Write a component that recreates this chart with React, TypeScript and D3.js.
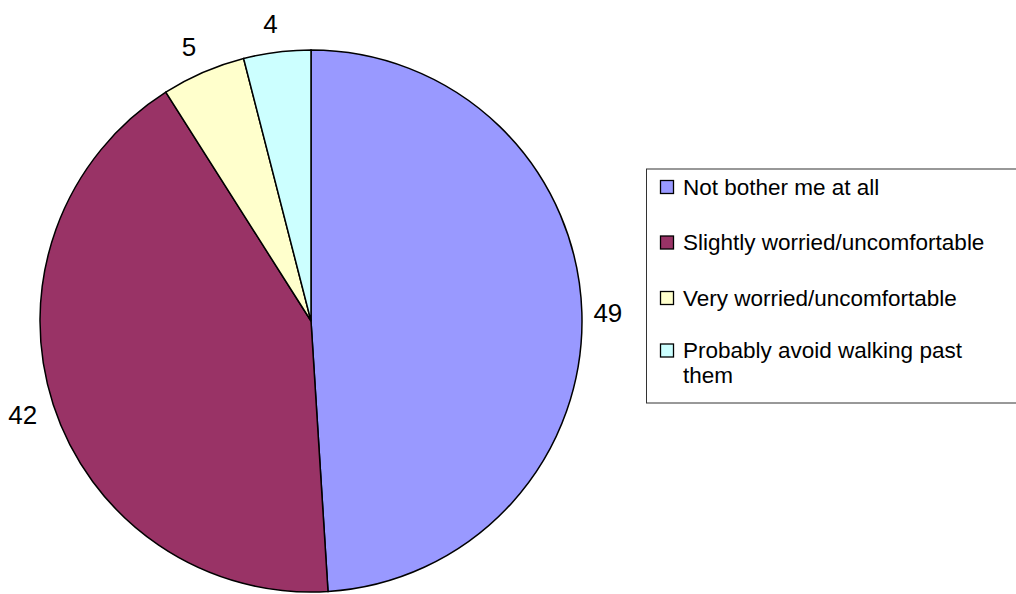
import React from "react";
import * as d3 from "d3";

const categories = [
  "Not bother me at all",
  "Slightly worried/uncomfortable",
  "Very worried/uncomfortable",
  "Probably avoid walking past them",
];
const values = [49, 42, 5, 4];
const colors = ["#9999FF", "#993366", "#FFFFCC", "#CCFFFF"];
const legendLines = [
  ["Not bother me at all"],
  ["Slightly worried/uncomfortable"],
  ["Very worried/uncomfortable"],
  ["Probably avoid walking past", "them"],
];

export default function App() {
  const W = 1016, H = 594;
  const cx = 311, cy = 321, r = 271;
  const pie = d3.pie<number>().sort(null).value((d) => d);
  const arcs = pie(values);
  const arc = d3.arc<d3.PieArcDatum<number>>().innerRadius(0).outerRadius(r);
  const labelArc = d3.arc<d3.PieArcDatum<number>>().innerRadius(300).outerRadius(300);
  const font = "Liberation Sans, Arial, sans-serif";

  const lx = 646.5, ly = 169, lw = 380, lh = 234;
  const rowY = d3.range(categories.length).map((i) => 187 + i * 55.5);
  const lineGap = 25;

  return (
    <svg width={W} height={H} style={{ position: "absolute", left: 0, top: 0 }}>
      <rect width={W} height={H} fill="white" />
      <g transform={`translate(${cx},${cy})`}>
        {arcs.map((a, i) => (
          <path key={i} d={arc(a) || ""} fill={colors[i]} stroke="black" strokeWidth={1.5} />
        ))}
        {arcs.map((a, i) => {
          const [x, y] = labelArc.centroid(a);
          return (
            <text key={"l" + i} x={x - 3} y={y + 1} textAnchor="middle" dominantBaseline="central"
              fontFamily={font} fontSize={26} fill="black">
              {values[i]}
            </text>
          );
        })}
      </g>
      <rect x={lx} y={ly} width={lw} height={lh} fill="white" stroke="#333" strokeWidth={1} />
      {categories.map((c, i) => {
        const lines = legendLines[i];
        const y0 = rowY[i] - (lines.length > 1 ? 3 : 0);
        return (
          <g key={c}>
            <rect x={660.5} y={y0 - 6.5} width={13} height={13} fill={colors[i]} stroke="black" strokeWidth={1.3} />
            {lines.map((t, j) => (
              <text key={j} x={683} y={y0 + j * lineGap} dominantBaseline="central"
                fontFamily={font} fontSize={22.5} fill="black">
                {t}
              </text>
            ))}
          </g>
        );
      })}
    </svg>
  );
}
